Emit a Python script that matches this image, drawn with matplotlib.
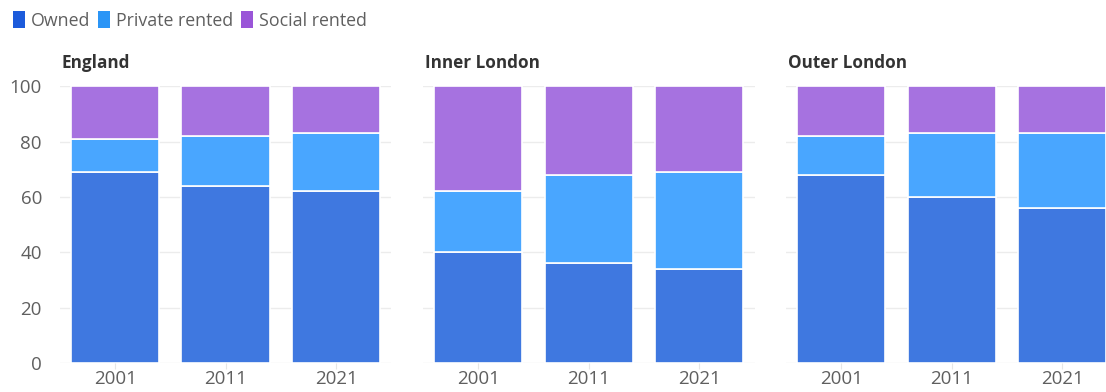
import matplotlib
matplotlib.use("Agg")
import matplotlib.pyplot as plt
from matplotlib.patches import Patch

plt.rcParams['font.family'] = ['Open Sans', 'DejaVu Sans']

# tenure shares (%) by census year
years = ['2001', '2011', '2021']
regions = ['England', 'Inner London', 'Outer London']
owned = {
    'England': [69, 64, 62],
    'Inner London': [40, 36, 34],
    'Outer London': [68, 60, 56],
}
private_rented = {
    'England': [12, 18, 21],
    'Inner London': [22, 32, 35],
    'Outer London': [14, 23, 27],
}
social_rented = {
    'England': [19, 18, 17],
    'Inner London': [38, 32, 31],
    'Outer London': [18, 17, 17],
}

series = ['Owned', 'Private rented', 'Social rented']
bar_colors = ['#3f78e0', '#49a6ff', '#a672e0']
key_colors = ['#1c5bdb', '#2b95f6', '#9a55d8']
text_grey = '#5f5f5f'

fig = plt.figure(figsize=(11.06, 3.92), dpi=100)
lefts = [0.0542, 0.3825, 0.7107]
bottom, height, width = 0.074, 0.706, 0.2997

for i, reg in enumerate(regions):
    ax = fig.add_axes([lefts[i], bottom, width, height])
    x = list(range(len(years)))
    base = [0] * len(years)
    for vals, col in zip([owned[reg], private_rented[reg], social_rented[reg]], bar_colors):
        ax.bar(x, vals, width=0.8, bottom=base, color=col,
               edgecolor='white', linewidth=1.2, zorder=3)
        base = [b + v for b, v in zip(base, vals)]
    ax.set_xlim(-0.5, 2.5)
    ax.set_ylim(0, 100)
    ax.set_yticks([0, 20, 40, 60, 80, 100])
    ax.grid(axis='y', color='#ececec', linewidth=1, zorder=0)
    ax.set_xticks(x)
    ax.set_xticklabels(years)
    for s in ax.spines.values():
        s.set_visible(False)
    ax.tick_params(axis='x', length=4, color='#e6e6e6', colors=text_grey,
                   labelsize=13.5, pad=1)
    ax.tick_params(axis='y', length=0, colors=text_grey, labelsize=13.5, pad=13)
    if i > 0:
        ax.set_yticklabels([])
    ax.text(0.005, 1.05, reg, transform=ax.transAxes, fontsize=12.3,
            fontweight='bold', color='#333333', ha='left', va='bottom')

handles = [Patch(facecolor=c, edgecolor='none') for c in key_colors]
fig.legend(handles, series, loc='upper left', bbox_to_anchor=(-0.003, 1.012),
           ncol=3, frameon=False, handlelength=0.7, handleheight=1.1,
           handletextpad=0.3, columnspacing=0.45, fontsize=12.8,
           labelcolor=text_grey)

fig.savefig('out.png', dpi=100)
